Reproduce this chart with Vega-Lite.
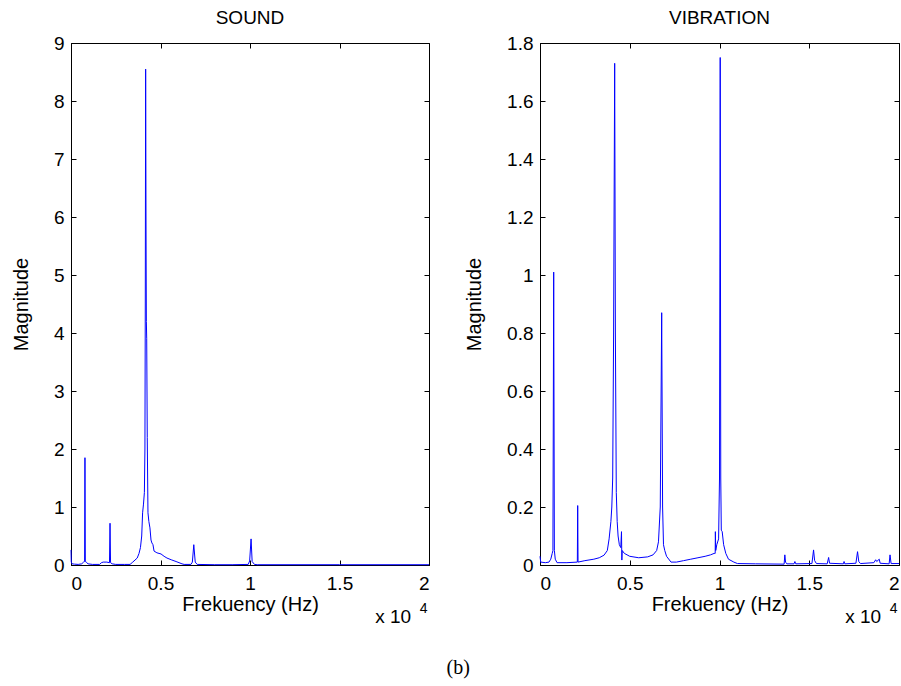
{
  "$schema": "https://vega.github.io/schema/vega-lite/v6.json",
  "background": "white",
  "padding": {"left": 10, "top": 8, "right": 2, "bottom": 5},
  "config": {
    "font": "Liberation Sans",
    "view": {"stroke": "black", "strokeWidth": 1},
    "axis": {
      "grid": false,
      "domainColor": "black",
      "domainWidth": 1,
      "tickColor": "black",
      "tickSize": -5,
      "labelColor": "black",
      "labelFont": "Liberation Sans",
      "labelFontSize": 19,
      "titleFont": "Liberation Sans",
      "titleFontSize": 20,
      "titleFontWeight": "normal",
      "titleColor": "black"
    },
    "axisX": {"labelPadding": 14, "titlePadding": 1},
    "axisY": {"labelPadding": 12, "titlePadding": 22},
    "title": {"font": "Liberation Sans", "fontSize": 19, "fontWeight": "normal", "color": "black"}
  },
  "datasets": {
    "sound": [
      {"f": 0, "m": 0.26}, {"f": 15, "m": 0.05}, {"f": 60, "m": 0.02}, {"f": 200, "m": 0.015}, {"f": 400, "m": 0.01},
      {"f": 600, "m": 0.02}, {"f": 700, "m": 0.05}, {"f": 760, "m": 0.06}, {"f": 780, "m": 1.85}, {"f": 800, "m": 0.06},
      {"f": 850, "m": 0.05}, {"f": 950, "m": 0.02}, {"f": 1200, "m": 0.01}, {"f": 1600, "m": 0.01}, {"f": 1700, "m": 0.04},
      {"f": 1800, "m": 0.05}, {"f": 2000, "m": 0.05}, {"f": 2150, "m": 0.04}, {"f": 2180, "m": 0.72}, {"f": 2210, "m": 0.04},
      {"f": 2300, "m": 0.02}, {"f": 2500, "m": 0.01}, {"f": 3000, "m": 0.01}, {"f": 3300, "m": 0.01}, {"f": 3450, "m": 0.05},
      {"f": 3700, "m": 0.12}, {"f": 3800, "m": 0.2}, {"f": 3880, "m": 0.3}, {"f": 3950, "m": 0.5}, {"f": 4000, "m": 0.9},
      {"f": 4050, "m": 1.05}, {"f": 4100, "m": 1.25}, {"f": 4130, "m": 2.0}, {"f": 4150, "m": 4.5}, {"f": 4170, "m": 8.55},
      {"f": 4190, "m": 6.0}, {"f": 4210, "m": 4.2}, {"f": 4230, "m": 3.9}, {"f": 4260, "m": 2.2}, {"f": 4300, "m": 0.9},
      {"f": 4350, "m": 0.75}, {"f": 4410, "m": 0.64}, {"f": 4470, "m": 0.43}, {"f": 4520, "m": 0.38}, {"f": 4580, "m": 0.35},
      {"f": 4640, "m": 0.24}, {"f": 4800, "m": 0.21}, {"f": 5030, "m": 0.19}, {"f": 5200, "m": 0.15}, {"f": 5360, "m": 0.12},
      {"f": 5600, "m": 0.09}, {"f": 5870, "m": 0.06}, {"f": 6200, "m": 0.02}, {"f": 6320, "m": 0.01}, {"f": 6700, "m": 0.01},
      {"f": 6780, "m": 0.05}, {"f": 6860, "m": 0.35}, {"f": 6940, "m": 0.05}, {"f": 7050, "m": 0.01}, {"f": 8000, "m": 0.005},
      {"f": 9000, "m": 0.005}, {"f": 9900, "m": 0.01}, {"f": 9980, "m": 0.07}, {"f": 10060, "m": 0.45}, {"f": 10120, "m": 0.06},
      {"f": 10250, "m": 0.01}, {"f": 10400, "m": 0.005}, {"f": 15000, "m": 0.005}, {"f": 20000, "m": 0.005}
    ],
    "vib": [
      {"f": 0, "m": 0.03}, {"f": 40, "m": 0.01}, {"f": 300, "m": 0.008}, {"f": 500, "m": 0.01}, {"f": 600, "m": 0.02},
      {"f": 680, "m": 0.04}, {"f": 720, "m": 0.05}, {"f": 763, "m": 1.01}, {"f": 800, "m": 0.05}, {"f": 850, "m": 0.02},
      {"f": 950, "m": 0.008}, {"f": 1500, "m": 0.008}, {"f": 2080, "m": 0.01}, {"f": 2100, "m": 0.205}, {"f": 2120, "m": 0.01},
      {"f": 2500, "m": 0.015}, {"f": 3000, "m": 0.02}, {"f": 3300, "m": 0.025}, {"f": 3570, "m": 0.034}, {"f": 3750, "m": 0.05},
      {"f": 3850, "m": 0.09}, {"f": 3950, "m": 0.15}, {"f": 4000, "m": 0.2}, {"f": 4050, "m": 0.3}, {"f": 4100, "m": 0.8},
      {"f": 4160, "m": 1.73}, {"f": 4200, "m": 0.8}, {"f": 4250, "m": 0.25}, {"f": 4300, "m": 0.15}, {"f": 4350, "m": 0.1},
      {"f": 4420, "m": 0.07}, {"f": 4500, "m": 0.06}, {"f": 4540, "m": 0.115}, {"f": 4560, "m": 0.017}, {"f": 4580, "m": 0.05},
      {"f": 4700, "m": 0.04}, {"f": 5000, "m": 0.03}, {"f": 5500, "m": 0.025}, {"f": 6000, "m": 0.028}, {"f": 6300, "m": 0.035},
      {"f": 6500, "m": 0.05}, {"f": 6600, "m": 0.08}, {"f": 6700, "m": 0.2}, {"f": 6780, "m": 0.87}, {"f": 6830, "m": 0.2},
      {"f": 6880, "m": 0.07}, {"f": 6950, "m": 0.05}, {"f": 7050, "m": 0.03}, {"f": 7300, "m": 0.01}, {"f": 7600, "m": 0.01},
      {"f": 8000, "m": 0.015}, {"f": 8400, "m": 0.02}, {"f": 8800, "m": 0.025}, {"f": 9200, "m": 0.03}, {"f": 9500, "m": 0.035},
      {"f": 9700, "m": 0.04}, {"f": 9760, "m": 0.04}, {"f": 9770, "m": 0.115}, {"f": 9790, "m": 0.05}, {"f": 9850, "m": 0.07},
      {"f": 9950, "m": 0.09}, {"f": 10000, "m": 0.3}, {"f": 10040, "m": 1.75}, {"f": 10070, "m": 0.3}, {"f": 10100, "m": 0.12},
      {"f": 10150, "m": 0.115}, {"f": 10230, "m": 0.07}, {"f": 10350, "m": 0.04}, {"f": 10500, "m": 0.02}, {"f": 10800, "m": 0.01},
      {"f": 11000, "m": 0.005}, {"f": 12000, "m": 0.004}, {"f": 13600, "m": 0.003}, {"f": 13640, "m": 0.035}, {"f": 13680, "m": 0.01},
      {"f": 13750, "m": 0.004}, {"f": 14150, "m": 0.004}, {"f": 14200, "m": 0.012}, {"f": 14250, "m": 0.004}, {"f": 15150, "m": 0.005},
      {"f": 15240, "m": 0.052}, {"f": 15300, "m": 0.015}, {"f": 15400, "m": 0.005}, {"f": 16000, "m": 0.004}, {"f": 16080, "m": 0.026},
      {"f": 16130, "m": 0.006}, {"f": 16900, "m": 0.004}, {"f": 16940, "m": 0.012}, {"f": 16980, "m": 0.004}, {"f": 17600, "m": 0.006},
      {"f": 17690, "m": 0.046}, {"f": 17760, "m": 0.012}, {"f": 17850, "m": 0.005}, {"f": 18600, "m": 0.008}, {"f": 18700, "m": 0.018},
      {"f": 18760, "m": 0.012}, {"f": 18900, "m": 0.02}, {"f": 18950, "m": 0.006}, {"f": 19450, "m": 0.004}, {"f": 19500, "m": 0.035},
      {"f": 19560, "m": 0.005}, {"f": 20000, "m": 0.005}
    ],
    "exp": [
      {"f": 18000, "m": 0, "t": "x 10", "s": "base"},
      {"f": 19700, "m": 0, "t": "4", "s": "sup"}
    ]
  },
  "bounds": "flush",
  "spacing": 111,
  "title": {"text": "(b)", "orient": "bottom", "anchor": "middle", "font": "Liberation Serif", "fontSize": 20, "fontWeight": "normal", "offset": 30, "dx": 2},
  "hconcat": [
    {
      "width": 358,
      "height": 522,
      "title": {"text": "SOUND", "offset": 6},
      "resolve": {"axis": {"x": "independent", "y": "independent"}},
      "layer": [
        {
          "data": {"name": "sound"},
          "mark": {"type": "line", "color": "#0000ff", "strokeWidth": 1},
          "encoding": {
            "x": {"field": "f", "type": "quantitative", "scale": {"domain": [0, 20000], "nice": false},
                  "axis": {"values": [0, 5000, 10000, 15000, 20000], "labelExpr": "'' + datum.value / 10000", "title": "Frekuency (Hz)"}},
            "y": {"field": "m", "type": "quantitative", "scale": {"domain": [0, 9], "nice": false},
                  "axis": {"values": [0, 1, 2, 3, 4, 5, 6, 7, 8, 9], "title": "Magnitude"}}
          }
        },
        {
          "data": {"name": "sound"},
          "mark": {"type": "line", "opacity": 0},
          "encoding": {
            "x": {"field": "f", "type": "quantitative", "axis": {"orient": "top", "values": [0, 5000, 10000, 15000, 20000], "labels": false, "domain": false, "title": null}},
            "y": {"field": "m", "type": "quantitative", "axis": {"orient": "right", "values": [0, 1, 2, 3, 4, 5, 6, 7, 8, 9], "labels": false, "domain": false, "title": null}}
          }
        },
        {
          "data": {"name": "exp"},
          "transform": [{"filter": "datum.s == 'base'"}],
          "mark": {"type": "text", "fontSize": 19, "dy": 52, "baseline": "middle", "color": "black"},
          "encoding": {"x": {"field": "f", "type": "quantitative", "axis": null}, "y": {"field": "m", "type": "quantitative", "axis": null}, "text": {"field": "t"}}
        },
        {
          "data": {"name": "exp"},
          "transform": [{"filter": "datum.s == 'sup'"}],
          "mark": {"type": "text", "fontSize": 14, "dy": 44, "baseline": "middle", "color": "black"},
          "encoding": {"x": {"field": "f", "type": "quantitative", "axis": null}, "y": {"field": "m", "type": "quantitative", "axis": null}, "text": {"field": "t"}}
        }
      ]
    },
    {
      "width": 359,
      "height": 522,
      "title": {"text": "VIBRATION", "offset": 6},
      "resolve": {"axis": {"x": "independent", "y": "independent"}},
      "layer": [
        {
          "data": {"name": "vib"},
          "mark": {"type": "line", "color": "#0000ff", "strokeWidth": 1},
          "encoding": {
            "x": {"field": "f", "type": "quantitative", "scale": {"domain": [0, 20000], "nice": false},
                  "axis": {"values": [0, 5000, 10000, 15000, 20000], "labelExpr": "'' + datum.value / 10000", "title": "Frekuency (Hz)"}},
            "y": {"field": "m", "type": "quantitative", "scale": {"domain": [0, 1.8], "nice": false},
                  "axis": {"values": [0, 0.2, 0.4, 0.6, 0.8, 1, 1.2, 1.4, 1.6, 1.8], "format": "~g", "title": "Magnitude"}}
          }
        },
        {
          "data": {"name": "vib"},
          "mark": {"type": "line", "opacity": 0},
          "encoding": {
            "x": {"field": "f", "type": "quantitative", "axis": {"orient": "top", "values": [0, 5000, 10000, 15000, 20000], "labels": false, "domain": false, "title": null}},
            "y": {"field": "m", "type": "quantitative", "axis": {"orient": "right", "values": [0, 0.2, 0.4, 0.6, 0.8, 1, 1.2, 1.4, 1.6, 1.8], "labels": false, "domain": false, "title": null}}
          }
        },
        {
          "data": {"name": "exp"},
          "transform": [{"filter": "datum.s == 'base'"}],
          "mark": {"type": "text", "fontSize": 19, "dy": 52, "baseline": "middle", "color": "black"},
          "encoding": {"x": {"field": "f", "type": "quantitative", "axis": null}, "y": {"field": "m", "type": "quantitative", "axis": null}, "text": {"field": "t"}}
        },
        {
          "data": {"name": "exp"},
          "transform": [{"filter": "datum.s == 'sup'"}],
          "mark": {"type": "text", "fontSize": 14, "dy": 44, "baseline": "middle", "color": "black"},
          "encoding": {"x": {"field": "f", "type": "quantitative", "axis": null}, "y": {"field": "m", "type": "quantitative", "axis": null}, "text": {"field": "t"}}
        }
      ]
    }
  ]
}
